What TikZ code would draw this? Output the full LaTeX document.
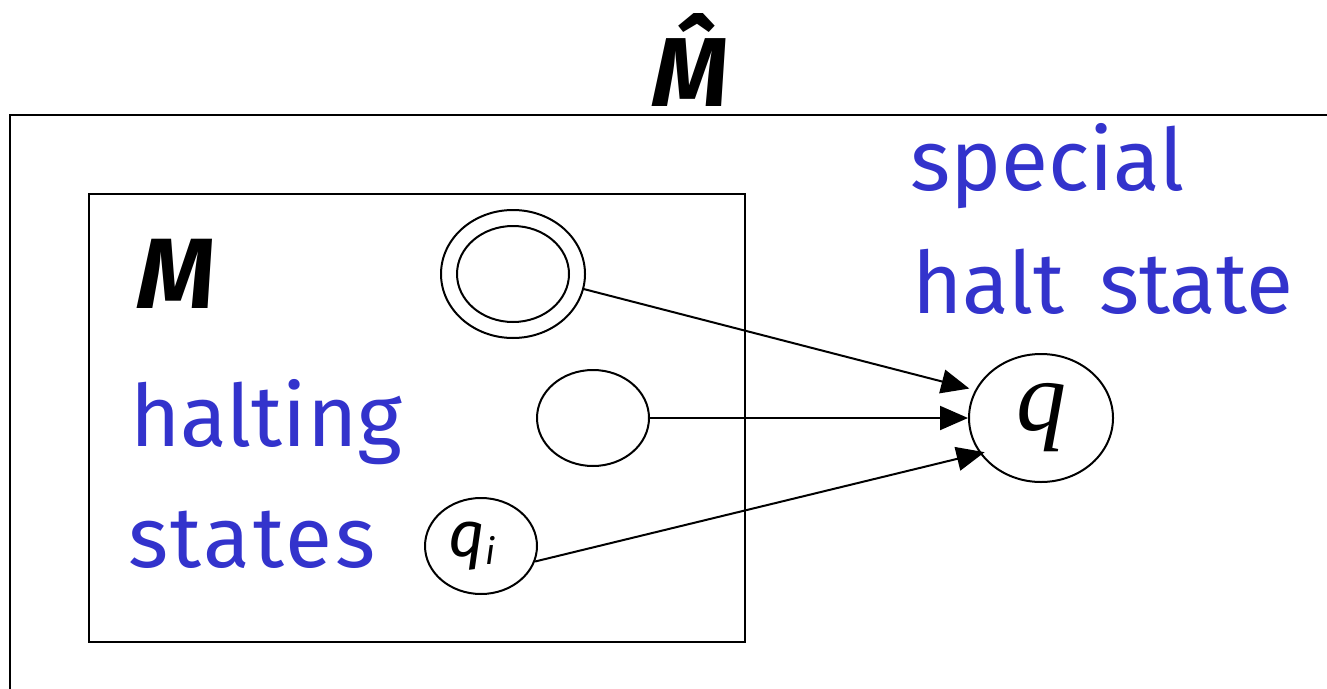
\documentclass[tikz,border=0pt]{standalone}
\usepackage{fontspec}
\setmainfont{Fira Sans}
\newfontfamily\qserif{Liberation Serif}
\usetikzlibrary{arrows.meta,shapes.geometric}
\definecolor{txtblue}{RGB}{51,51,204}
\tikzset{
  st/.style={draw, ellipse, line width=2pt, inner sep=0pt},
  conn/.style={line width=2pt, -{Triangle[length=28pt,width=24pt]}},
  bluetxt/.style={text=txtblue, anchor=base west, inner sep=0pt, font=\fontsize{86}{86}\selectfont},
  frame/.style={line width=2pt}
}
\begin{document}
\begin{tikzpicture}[x=1pt,y=-1pt]
\useasboundingbox (0,0) rectangle (1327,688);
% outer machine frame
\draw[frame] (10,700) -- (10,115) -- (1340,115);
\node[anchor=base, inner sep=0pt, font=\fontsize{98}{98}\selectfont\bfseries\itshape] (Mhat) at (690,106) {M^^^^0302};
% inner machine
\draw[frame] (89,194) rectangle (745,642);
\node[anchor=base west, inner sep=0pt, font=\fontsize{100}{100}\selectfont\bfseries\itshape] (M) at (137,308) {M};
% states
\node[st, minimum width=144pt, minimum height=128pt] (h1o) at (513,274) {};
\node[st, minimum width=112pt, minimum height=96pt] (h1i) at (513,274) {};
\node[st, minimum width=112pt, minimum height=96pt] (h2) at (593,418) {};
\node[st, minimum width=112pt, minimum height=96pt, font=\fontsize{64}{64}\selectfont\itshape] (qi) at (481,546) {\raisebox{4pt}{q}\kern1pt{\fontsize{36}{36}\selectfont\raisebox{-4pt}{i}}\kern18pt};
\node[st, minimum width=144pt, minimum height=128pt, font=\fontsize{100}{100}\selectfont\qserif\itshape] (q) at (1041,418) {\raisebox{6pt}{q}};
% texts
\node[bluetxt] (t1) at (910,190) {special};
\node[bluetxt] (t2) at (912,313) {halt\hspace{0.4em}state};
\node[bluetxt] (t3) at (130,446) {halting};
\node[bluetxt, font=\fontsize{86}{86}\selectfont\addfontfeature{LetterSpace=3}] (t4) at (128,567) {states};
% connectors
\draw[conn, shorten >=6pt] (h1o.-12) -- (q.157);
\draw[conn] (h2.east) -- (q.west);
\draw[conn, shorten >=-5pt] (qi.-16) -- (q.-150);
\end{tikzpicture}
\end{document}
